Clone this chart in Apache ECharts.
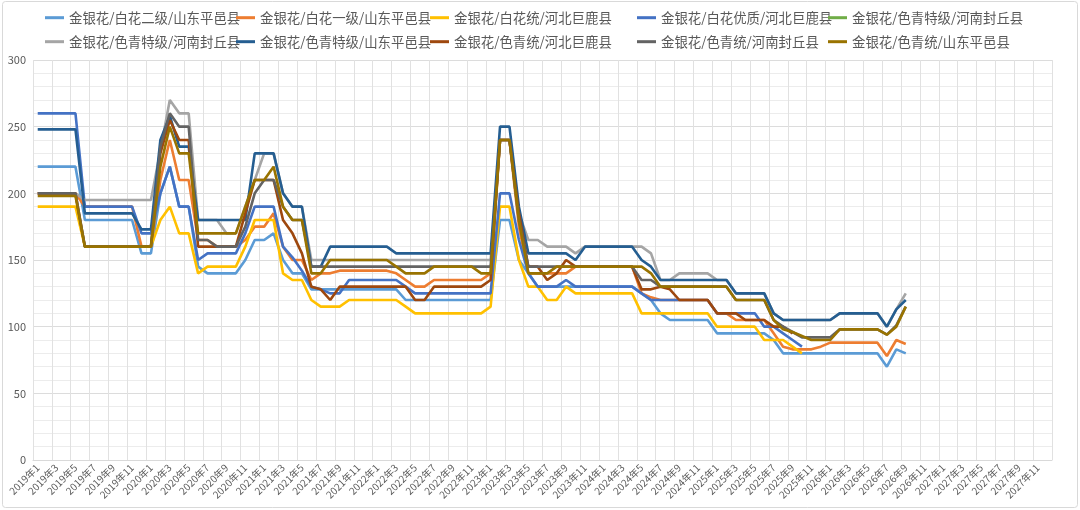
<!DOCTYPE html>
<html>
<head>
<meta charset="utf-8">
<script src="https://cdn.jsdelivr.net/npm/echarts@6/dist/echarts.min.js"></script>
<style>
  html, body { margin: 0; padding: 0; background: #fff; }
  #chart { width: 1080px; height: 510px; }
</style>
</head>
<body>
<div id="chart"></div>
<script>
// month labels 2019年1 .. 2027年12
const months = [];
for (let y = 2019; y <= 2027; y++) {
  for (let m = 1; m <= 12; m++) months.push(y + "年" + m);
}

const seriesNames = [
  "金银花/白花二级/山东平邑县",
  "金银花/白花一级/山东平邑县",
  "金银花/白花统/河北巨鹿县",
  "金银花/白花优质/河北巨鹿县",
  "金银花/色青特级/河南封丘县",
  "金银花/色青特级/河南封丘县 ",
  "金银花/色青特级/山东平邑县",
  "金银花/色青统/河北巨鹿县",
  "金银花/色青统/河南封丘县",
  "金银花/色青统/山东平邑县",
];
const seriesColors = ["#5B9BD5", "#ED7D31", "#FFC000", "#4472C4", "#70AD47",
  "#A5A5A5", "#255E91", "#9E480E", "#636363", "#997300"];

const yTicks = [0, 50, 100, 150, 200, 250, 300];

// prices, one value per month from 2019年1
const baiHuaErJiSD = [220,220,220,220,220, 180,180,180,180,180,180, 155,155, 200,220,190,190, 145, 140,140,140,140, 150, 165,165, 170, 150, 140,140,
  128,128,128,128,128,128,128,128,128,128, 120,120,120,120,120,120,120,120,120,120, 180,180, 150, 140,
  130,130,130,130,130,130,130,130,130,130,130, 125, 120, 110, 105,105,105,105,105, 95,95,95,95,95,95, 90,
  80,80,80,80,80,80,80,80,80,80,80, 70, 83, 80];
const baiHuaYiJiSD = [200,200,200,200,200, 190,190,190,190,190,190, 160,160, 210,240,210,210, 165,165, 160,160,160, 165, 175,175, 185, 160, 150,150,
  135, 140,140, 142,142,142,142,142,142, 140, 135, 130,130, 135,135,135,135,135,135, 140, 240,240, 175,
  140,140,140,140,140, 145,145,145,145,145,145,145, 125, 122, 120,120,120,120,120,120, 110,110, 105,105,105,105,
  95, 85, 83,83,83, 85, 88,88,88,88,88,88, 78, 90, 87];
const baiHuaTongHB = [190,190,190,190,190, 160,160,160,160,160,160,160,160, 180,190,170,170, 140, 145,145,145,145, 160, 180,180,180, 140, 135,135,
  120, 115,115,115, 120,120,120,120,120,120, 115, 110,110,110,110,110,110,110,110, 115, 190,190, 150,
  130,130, 120,120, 130, 125,125,125,125,125,125,125, 110,110,110,110,110,110,110,110, 100,100,100,100,100,
  90,90,90, 85, 80, null,null,null,null,null,null,null,null,null,null,null];
const baiHuaYouZhiHB = [260,260,260,260,260, 190,190,190,190,190,190, 170,170, 200,220,190,190, 150, 155,155,155,155, 170, 190,190,190, 160, 152, 142,
  130, 128, 125,125, 135,135,135,135,135,135, 130, 125,125,125,125,125,125,125,125, 125, 200,200, 165, 140,
  130,130,130, 135, 130,130,130,130,130,130,130, 125, 120,120,120,120,120,120,120, 110,110,110,110,110,
  100,100, 95, 90, 85, null,null,null,null,null,null,null,null,null,null,null];
const seQingTeJiHN = [];
const seQingTeJiHN2 = [200,200,200,200,200, 195,195,195,195,195,195,195,195, 232,270,260,260, 180,180,180, 170,170, 190, 210, 230,230, 200, 190,190,
  150,150,150,150,150,150,150,150,150,150,150,150,150,150,150,150,150,150,150,150, 240,240, 185,
  165,165, 160,160,160, 155, 160,160,160,160,160,160,160, 155, 135,135, 140,140,140,140, 135,135, 125,125,125,125,
  110, 105,105,105,105,105,105, 110,110,110,110,110, 100, 113, 125];
const seQingTeJiSD = [248,248,248,248,248, 185,185,185,185,185,185, 173,173, 240,258,235,235, 180,180,180,180,180,180, 230,230,230, 200, 190,190,
  145,145, 160,160,160,160,160,160,160, 155,155,155,155,155,155,155,155,155,155,155, 250,250, 190,
  155,155,155,155,155, 150, 160,160,160,160,160,160, 150, 145, 135,135,135,135,135,135,135,135, 125,125,125,125,
  110, 105,105,105,105,105,105, 110,110,110,110,110, 100, 113, 120];
const seQingTongHB = [200,200,200,200,200, 160,160,160,160,160,160,160,160, 230,255,240,240, 160,160,160,160,160, 185, 210,210,210, 180, 170, 155,
  130, 128, 120, 130,130,130,130,130,130,130,130, 120,120, 130,130,130,130,130,130, 135, 240,240, 185,
  145,145, 135, 140, 150, 145,145,145,145,145,145,145, 128,128, 130, 128, 120,120,120,120, 110,110,110, 105,105,105,
  100,100, 95, null,null,null,null,null,null,null,null,null,null,null,null];
const seQingTongHN = [200,200,200,200,200, 160,160,160,160,160,160,160,160, 235,260,250,250, 165,165, 160,160,160, 175, 200, 210,210, 190, 180,180,
  145,145,145,145,145,145,145,145,145,145,145,145,145,145,145,145,145,145,145,145, 240,240, 180,
  145,145,145,145,145,145,145,145,145,145,145,145, 135,135, 130,130,130,130,130,130,130,130, 120,120,120,120,
  105, 100, 96, 92,92,92,92, 98,98,98,98,98, 94, 101, 115];
const seQingTongSD = [198,198,198,198,198, 160,160,160,160,160,160,160,160, 220,250,230,230, 170,170,170,170,170, 190, 210,210, 220, 190, 180,180,
  140,140, 150,150,150,150,150,150,150, 145, 140,140,140, 145,145,145,145,145, 140,140, 240,240, 180,
  140,140,140, 145,145,145,145,145,145,145,145,145,145, 140, 130,130,130,130,130,130,130,130, 120,120,120,120,
  105, 98, 96, 93, 90,90,90, 98,98,98,98,98, 94, 100, 115];

const seriesData = [baiHuaErJiSD, baiHuaYiJiSD, baiHuaTongHB, baiHuaYouZhiHB, seQingTeJiHN,
  seQingTeJiHN2, seQingTeJiSD, seQingTongHB, seQingTongHN, seQingTongSD];

// legend grid: 5 columns x 2 rows
const legendCols = [45, 236, 430, 637, 828];
const legendRows = [11, 35];

const FONT = '"Noto Sans CJK SC", "Noto Sans", sans-serif';

let legends = seriesNames.map((name, i) => ({
  data: [name],
  left: legendCols[i % 5],
  top: legendRows[Math.floor(i / 5)],
  icon: "rect",
  itemWidth: 19,
  itemHeight: 3,
  itemGap: 0,
  padding: 0,
  selectedMode: false,
  textStyle: { fontFamily: FONT, fontSize: 13.4, color: "#595959", padding: [0, 0, 0, 0] },
  formatter: (n) => n.trim(),
}));

let option = {
  backgroundColor: "#fff",
  animation: false,
  legend: legends,
  grid: { left: 33, right: 28, top: 60, bottom: 50, containLabel: false },
  xAxis: {
    type: "category",
    data: months,
    boundaryGap: true,
    axisLine: { lineStyle: { color: "#d9d9d9" } },
    axisTick: { show: false },
    axisLabel: {
      interval: 1,
      rotate: 45,
      fontFamily: FONT,
      fontSize: 10,
      color: "#595959",
      margin: 6,
    },
    splitLine: { show: true, interval: 1, lineStyle: { color: "#e1e1e1", width: 1 } },
  },
  yAxis: {
    type: "value",
    min: yTicks[0],
    max: yTicks[yTicks.length - 1],
    interval: 50,
    axisLine: { show: false },
    axisTick: { show: false },
    axisLabel: { fontFamily: FONT, fontSize: 11, color: "#595959", margin: 7 },
    splitLine: { lineStyle: { color: "#dcdcdc", width: 1 } },
    minorTick: { show: false, splitNumber: 5 },
    minorSplitLine: { show: true, lineStyle: { color: "#ececec", width: 1 } },
  },
  series: seriesNames.map((name, i) => ({
    name: name,
    type: "line",
    data: seriesData[i],
    showSymbol: false,
    symbol: "none",
    connectNulls: false,
    lineStyle: { width: 2.6, color: seriesColors[i] },
    itemStyle: { color: seriesColors[i] },
    emphasis: { disabled: true },
  })),
  graphic: [{
    type: "rect",
    shape: { x: 2.5, y: 1.5, width: 1075, height: 506, r: 3 },
    style: { fill: "none", stroke: "#d9d9d9", lineWidth: 1 },
    silent: true,
  }],
};

let chart = echarts.init(document.getElementById("chart"));
chart.setOption(option, true);
</script>
</body>
</html>
